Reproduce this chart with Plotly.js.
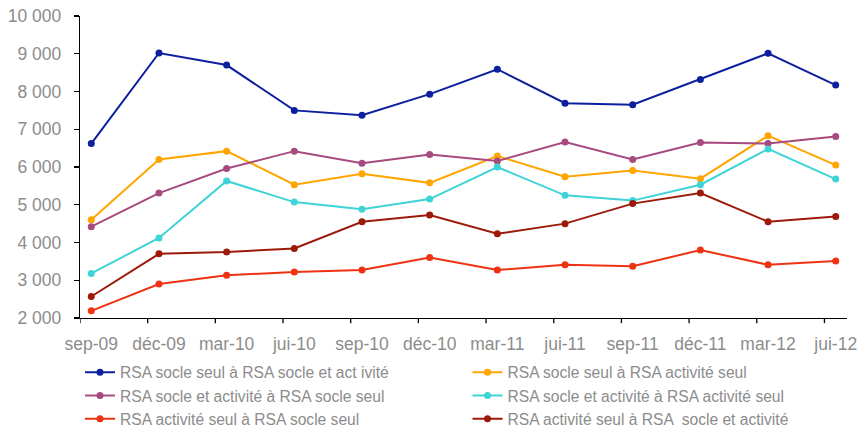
<!DOCTYPE html>
<html>
<head>
<meta charset="utf-8">
<script src="https://cdn.plot.ly/plotly-3.0.1.min.js"></script>
<style>html,body{margin:0;padding:0;background:#fff}#chart{width:860px;height:428px}</style>
</head>
<body>
<div id="chart"></div>
<script>
const categories = ["sep-09","déc-09","mar-10","jui-10","sep-10","déc-10","mar-11","jui-11","sep-11","déc-11","mar-12","jui-12"];

const seriesNames = [
  "RSA socle seul à RSA socle et act ivité",
  "RSA socle seul à RSA activité seul",
  "RSA socle et activité à RSA socle seul",
  "RSA socle et activité à RSA activité seul",
  "RSA activité seul à RSA socle seul",
  "RSA activité seul à RSA  socle et activité"
];

const socleToSocleActivite   = [6620, 9020, 8700, 7500, 7370, 7930, 8590, 7690, 7650, 8320, 9010, 8170];
const socleToActivite        = [4600, 6200, 6420, 5530, 5820, 5580, 6290, 5740, 5910, 5690, 6830, 6050];
const socleActiviteToSocle   = [4420, 5310, 5960, 6420, 6100, 6330, 6160, 6660, 6200, 6650, 6620, 6810];
const socleActiviteToActivite= [3180, 4120, 5630, 5070, 4880, 5150, 6000, 5250, 5110, 5530, 6480, 5680];
const activiteToSocle        = [2190, 2900, 3130, 3220, 3270, 3600, 3270, 3410, 3370, 3800, 3410, 3510];
const activiteToSocleActivite= [2570, 3700, 3750, 3840, 4550, 4730, 4230, 4500, 5030, 5310, 4550, 4690];

const yTickVals = [2000, 3000, 4000, 5000, 6000, 7000, 8000, 9000, 10000];

const seriesValues = [socleToSocleActivite, socleToActivite, socleActiviteToSocle, socleActiviteToActivite, activiteToSocle, activiteToSocleActivite];
const colors = ["#0c1f9c", "#ffa500", "#a64a7f", "#3ed3d6", "#ee3212", "#9c1a0a"];

const traces = seriesValues.map((vals, i) => ({
  type: "scatter",
  mode: "lines+markers",
  x: categories,
  y: vals,
  name: seriesNames[i],
  legend: (i % 2 === 0) ? "legend" : "legend2",
  line: {color: colors[i], width: 2},
  marker: {color: colors[i], size: 7, symbol: "circle"}
}));

// x-axis tick marks at month-period boundaries (half a month before each point)
const off = 1/6;
const shapes = categories.map((c, k) => ({
  type: "line", xref: "x", yref: "paper",
  x0: k - off, x1: k - off, y0: 0, y1: -0.017,
  line: {color: "#000", width: 1.3}, layer: "above"
}));

const legendBase = {
  orientation: "v",
  xref: "paper", yref: "container",
  xanchor: "left",
  y: (428 - 355.5)/428, yanchor: "top",
  font: {size: 15.6, color: "#8c8c8c"},
  tracegroupgap: 0,
  itemwidth: 30,
  bgcolor: "rgba(0,0,0,0)"
};

const layout = {
  width: 860, height: 428,
  margin: {l: 80, r: 13, t: 16, b: 110},
  paper_bgcolor: "#fff", plot_bgcolor: "#fff",
  separators: ", ",
  font: {family: "Liberation Sans, Arial, sans-serif", size: 17, color: "#8c8c8c"},
  showlegend: true,
  xaxis: {
    type: "category",
    range: [-off, categories.length - 1 + off],
    showgrid: false, zeroline: false,
    showline: true, linecolor: "#000", linewidth: 1.3,
    ticks: "", ticklabelstandoff: 10,
    tickfont: {size: 17.5, color: "#8c8c8c"}
  },
  yaxis: {
    range: [2000, 10000],
    tickvals: yTickVals,
    tickformat: ",d",
    showgrid: false, zeroline: false,
    showline: true, linecolor: "#000", linewidth: 1.3,
    ticks: "outside", ticklen: 5, tickcolor: "#000", tickwidth: 1.3,
    ticklabelstandoff: 9,
    tickfont: {size: 17.5, color: "#8c8c8c"}
  },
  legend: Object.assign({}, legendBase, {x: 0}),
  legend2: Object.assign({}, legendBase, {x: 387.5/767}),
  shapes: shapes
};

Plotly.newPlot("chart", traces, layout, {displayModeBar: false, staticPlot: true});
</script>
</body>
</html>
